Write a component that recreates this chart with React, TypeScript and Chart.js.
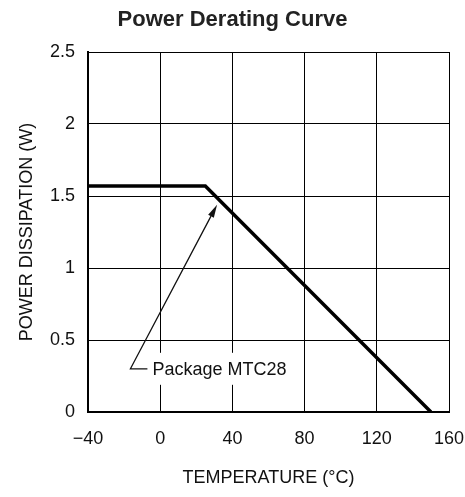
import React, { useEffect, useRef } from "react";
import { Chart, registerables } from "chart.js";

Chart.register(...registerables);

// ---- data ----
const temperatures = [-40, 25, 150];
const powerW = [1.57, 1.57, 0];
const xTickValues = [-40, 0, 40, 80, 120, 160];
const yTickValues = [0, 0.5, 1, 1.5, 2, 2.5];
const chartTitle = "Power Derating Curve";
const xTitle = "TEMPERATURE (°C)";
const yTitle = "POWER DISSIPATION (W)";
const annotationLabel = "Package MTC28";
const arrowTail = [-16.5, 0.3];
const arrowHead = [31.5, 1.44];

const FONT = "'Liberation Sans', Arial, sans-serif";

const annotationPlugin = {
  id: "pkgAnnotation",
  afterDatasetsDraw(chart: any) {
    const { ctx, scales } = chart;
    const x = scales.x;
    const y = scales.y;
    const tx = x.getPixelForValue(arrowTail[0]);
    const ty = y.getPixelForValue(arrowTail[1]);
    const hx = x.getPixelForValue(arrowHead[0]);
    const hy = y.getPixelForValue(arrowHead[1]);
    ctx.save();
    // label background + text
    ctx.font = `18px ${FONT}`;
    const textX = tx + 22;
    const w = ctx.measureText(annotationLabel).width;
    ctx.fillStyle = "#fff";
    ctx.fillRect(textX - 3, ty - 16, w + 6, 32);
    ctx.fillStyle = "#111";
    ctx.textBaseline = "middle";
    ctx.textAlign = "left";
    ctx.fillText(annotationLabel, textX, ty + 1);
    // leader + arrow
    const ang = Math.atan2(hy - ty, hx - tx);
    const headLen = 13;
    const headHalf = 3.2;
    const bx = hx - headLen * Math.cos(ang);
    const by = hy - headLen * Math.sin(ang);
    ctx.strokeStyle = "#111";
    ctx.lineWidth = 1.3;
    ctx.beginPath();
    ctx.moveTo(tx + 17, ty);
    ctx.lineTo(tx, ty);
    ctx.lineTo(bx, by);
    ctx.stroke();
    ctx.fillStyle = "#111";
    ctx.beginPath();
    ctx.moveTo(hx, hy);
    ctx.lineTo(bx + headHalf * Math.sin(ang), by - headHalf * Math.cos(ang));
    ctx.lineTo(bx - headHalf * Math.sin(ang), by + headHalf * Math.cos(ang));
    ctx.closePath();
    ctx.fill();
    ctx.restore();
  },
};

const fmt = (v: number) => (v < 0 ? "\u2212" + Math.abs(v) : String(v));

export default function App() {
  const canvasRef = useRef<HTMLCanvasElement | null>(null);

  useEffect(() => {
    if (!canvasRef.current) return;
    const chart = new Chart(canvasRef.current, {
      type: "line",
      data: {
        datasets: [
          {
            data: temperatures.map((t, i) => ({ x: t, y: powerW[i] })),
            borderColor: "#000",
            borderWidth: 3.5,
            pointRadius: 0,
            tension: 0,
            fill: false,
          },
        ],
      },
      options: {
        animation: false,
        responsive: true,
        maintainAspectRatio: false,
        layout: { padding: { top: 0, right: 0, left: 0, bottom: 0 } },
        plugins: {
          legend: { display: false },
          tooltip: { enabled: false },
          title: {
            display: true,
            text: chartTitle,
            color: "#222",
            font: { family: FONT, size: 22, weight: "bold" },
            padding: { top: 6.3, bottom: 19.3 },
          },
        },
        scales: {
          x: {
            type: "linear",
            min: xTickValues[0],
            max: xTickValues[xTickValues.length - 1],
            afterBuildTicks: (s: any) => {
              s.ticks = xTickValues.map((v) => ({ value: v }));
            },
            afterFit: (s: any) => {
              s.height = 85;
              s.paddingRight = 16;
            },
            ticks: {
              color: "#111",
              font: { family: FONT, size: 18 },
              padding: 16,
              maxRotation: 0,
              callback: (v: any) => fmt(Number(v)),
            },
            grid: { color: "#000", lineWidth: 1, drawTicks: false },
            border: { display: true, color: "#000", width: 2 },
            title: {
              display: true,
              text: xTitle,
              color: "#111",
              font: { family: FONT, size: 18 },
              padding: { top: 0, bottom: 8 },
            },
          },
          y: {
            type: "linear",
            min: yTickValues[0],
            max: yTickValues[yTickValues.length - 1],
            afterBuildTicks: (s: any) => {
              s.ticks = yTickValues.map((v) => ({ value: v }));
            },
            afterFit: (s: any) => {
              s.width = 88;
            },
            ticks: {
              color: "#111",
              font: { family: FONT, size: 18 },
              padding: 13,
              callback: (v: any) => fmt(Number(v)),
            },
            grid: { color: "#000", lineWidth: 1, drawTicks: false },
            border: { display: true, color: "#000", width: 2 },
            title: {
              display: true,
              text: yTitle,
              color: "#111",
              font: { family: FONT, size: 18 },
              padding: { top: 16, bottom: 0 },
            },
          },
        },
      },
      plugins: [annotationPlugin],
    });
    return () => chart.destroy();
  }, []);

  return (
    <div style={{ position: "fixed", left: 0, top: 0, width: 465, height: 497, background: "#fff" }}>
      <canvas ref={canvasRef} />
    </div>
  );
}
